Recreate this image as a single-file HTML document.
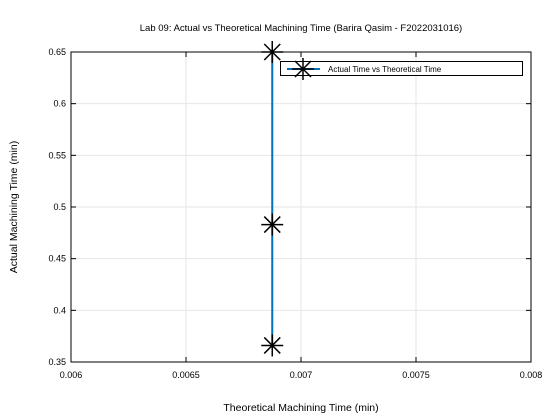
<!DOCTYPE html>
<html><head><style>
body{margin:0;background:#fff;font-family:"Liberation Sans",sans-serif;}
svg{display:block}
</style></head><body>
<svg id="chart" width="560" height="420">
<rect width="560" height="420" fill="#fff"/>
<text x="301" y="31" font-size="9.5" text-anchor="middle">Lab 09: Actual vs Theoretical Machining Time (Barira Qasim - F2022031016)</text>
<g id="grid"></g>
<g id="axes"></g>
<g id="series"></g>
<text x="301" y="411" font-size="10.5" text-anchor="middle">Theoretical Machining Time (min)</text>
<text x="17" y="207" font-size="10.5" text-anchor="middle" transform="rotate(-90 17 207)">Actual Machining Time (min)</text>
<g>
<rect x="280.5" y="61.5" width="242" height="14" fill="#fff" stroke="#000"/>
<line x1="287" y1="69" x2="320" y2="69" stroke="#0072bd" stroke-width="2"/>
<g stroke="#000" stroke-width="1.5">
<line x1="292" y1="69" x2="314" y2="69"/><line x1="303" y1="58" x2="303" y2="80"/>
<line x1="295" y1="61" x2="311" y2="77"/><line x1="295" y1="77" x2="311" y2="61"/></g>
<text x="328" y="72" font-size="8">Actual Time vs Theoretical Time</text>
</g>
</svg>
<script>
const xVals=[0.006875,0.006875,0.006875];
const yVals=[0.366,0.483,0.65];
const xTicks=[0.006,0.0065,0.007,0.0075,0.008];
const yTicks=[0.35,0.4,0.45,0.5,0.55,0.6,0.65];
const xTickLabels=["0.006","0.0065","0.007","0.0075","0.008"];
const yTickLabels=["0.35","0.4","0.45","0.5","0.55","0.6","0.65"];
const L=71,R=531,T=52,B=362;
const sx=v=>L+(v-0.006)/0.002*(R-L);
const sy=v=>B-(v-0.35)/0.3*(B-T);
const NS="http://www.w3.org/2000/svg";
function mk(tag,attrs,parent){const e=document.createElementNS(NS,tag);for(const k in attrs)e.setAttribute(k,attrs[k]);parent.appendChild(e);return e;}
const grid=document.getElementById('grid'),axes=document.getElementById('axes'),series=document.getElementById('series');
xTicks.forEach((t,i)=>{const x=sx(t);
 const g=mk('line',{x1:x,x2:x,y1:T,y2:B,stroke:'#e6e6e6'},grid);
 
 
 mk('line',{x1:x,x2:x,y1:B,y2:B-5,stroke:'#000'},axes);
 mk('line',{x1:x,x2:x,y1:T,y2:T+5,stroke:'#000'},axes);
 const tx=mk('text',{x:x,y:B+16,'font-size':9,'text-anchor':'middle'},axes);tx.textContent=xTickLabels[i];
 
 
});
yTicks.forEach((t,i)=>{const y=sy(t);
 const g=mk('line',{x1:L,x2:R,y1:y,y2:y,stroke:'#e6e6e6'},grid);
 
 
 mk('line',{x1:L,x2:L+5,y1:y,y2:y,stroke:'#000'},axes);
 mk('line',{x1:R,x2:R-5,y1:y,y2:y,stroke:'#000'},axes);
 const tx=mk('text',{x:L-5,y:y+3,'font-size':9,'text-anchor':'end'},axes);tx.textContent=yTickLabels[i];
 
 
});
const box=mk('rect',{x:L,y:T,width:R-L,height:B-T,fill:'none',stroke:'#000'},axes);


const pts=xVals.map((x,i)=>sx(x)+','+sy(yVals[i])).join(' ');
const line=mk('polyline',{points:pts,fill:'none',stroke:'#0072bd','stroke-width':2},series);


xVals.forEach((x,i)=>{const cx=sx(x),cy=sy(yVals[i]);
 const g=mk('g',{stroke:'#000','stroke-width':1.5},series);
 
 
 mk('line',{x1:cx-11,x2:cx+11,y1:cy,y2:cy},g);
 mk('line',{x1:cx,x2:cx,y1:cy-11,y2:cy+11},g);
 mk('line',{x1:cx-8,x2:cx+8,y1:cy-8,y2:cy+8},g);
 mk('line',{x1:cx-8,x2:cx+8,y1:cy+8,y2:cy-8},g);
});
</script>
</body></html>
